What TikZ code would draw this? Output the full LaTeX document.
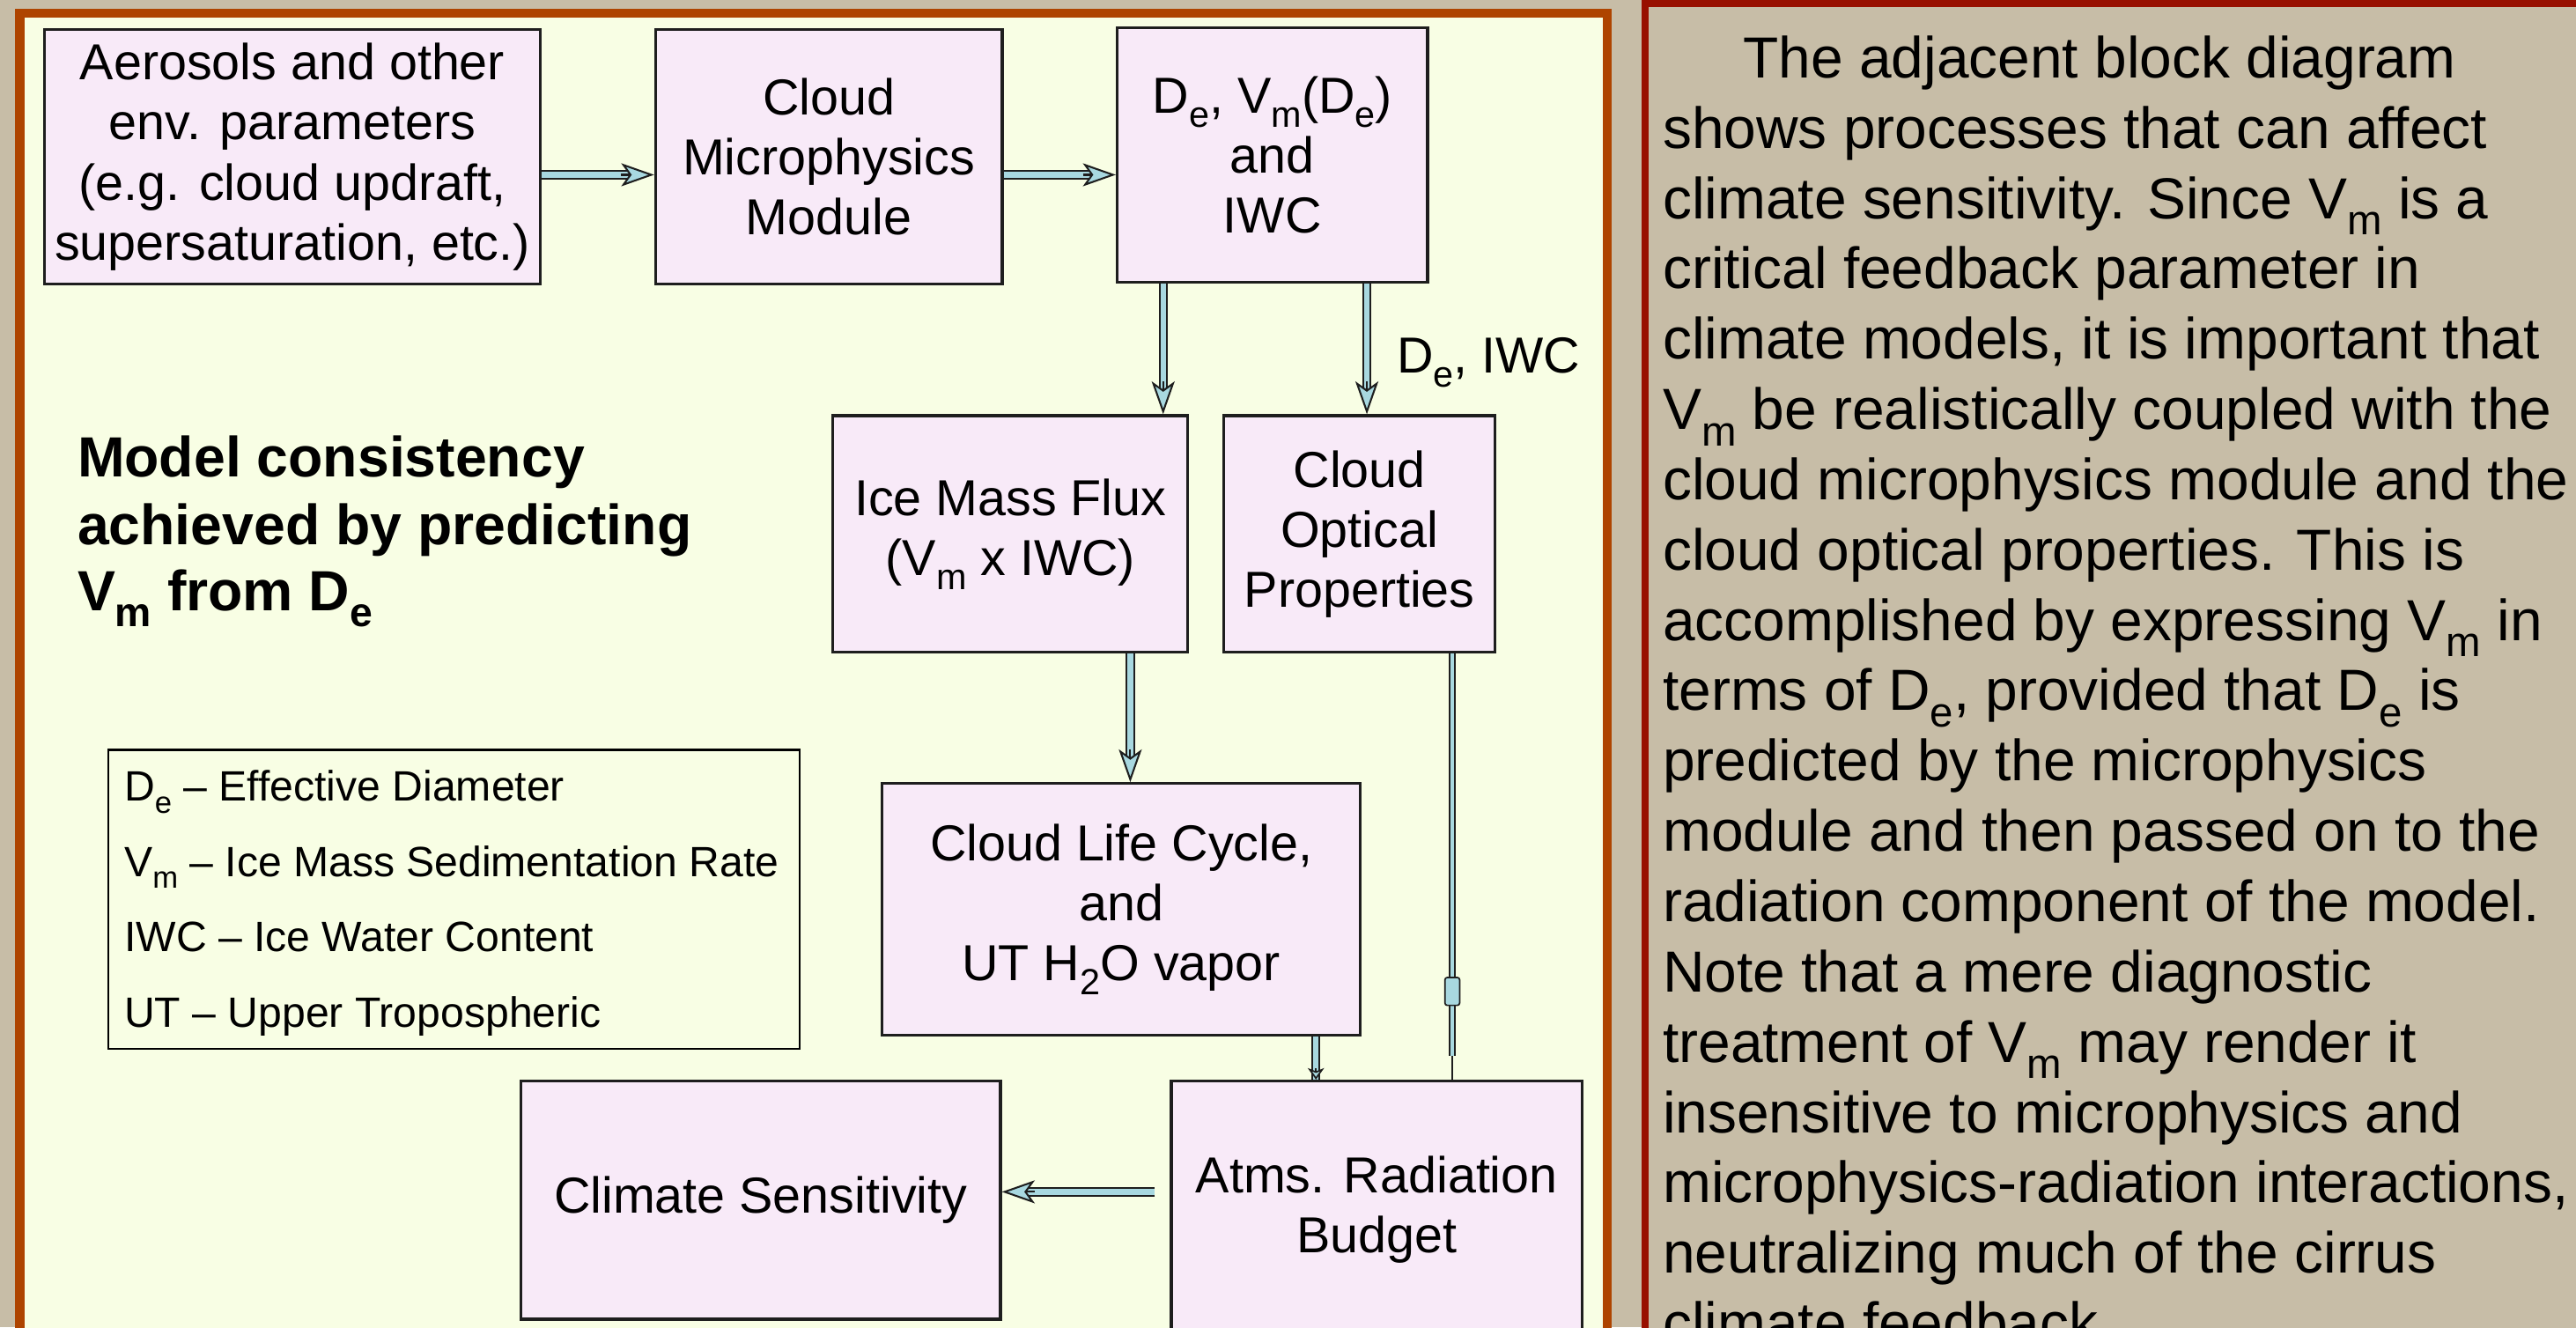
\documentclass[tikz,border=0pt]{standalone}
\usepackage{fontspec}
\setmainfont{Liberation Sans}
\usepackage{graphicx}
\usetikzlibrary{arrows.meta,calc}
\definecolor{tanbg}{RGB}{199,189,167}
\definecolor{panelyel}{RGB}{248,254,228}
\definecolor{boxfill}{RGB}{248,234,248}
\definecolor{arrowblue}{RGB}{168,216,224}
\definecolor{orangeb}{RGB}{174,68,0}
\definecolor{redb}{RGB}{152,16,0}
\definecolor{edge}{RGB}{30,30,30}
\newcommand\lsub[1]{\raisebox{-0.28em}{\scalebox{0.72}{#1}}}
\newcommand\boxfont{\fontsize{30.8}{36.5}\selectfont}
\newcommand\parafont{\fontsize{35.3}{42.8}\selectfont}
\newcommand\boldtxt{\fontsize{34.5}{40.6}\selectfont\bfseries}
\newcommand\legfont{\fontsize{25.8}{30}\selectfont}
\newcommand\dbarrow[2]{%
  \draw[shaft, shorten >=15pt] (#1) -- (#2);
  \draw[headtip] ($(#2)!20pt!(#1)$) -- (#2);}
\begin{document}
\begin{tikzpicture}[x=1pt,y=-1pt,
  box/.style={draw=edge, line width=1.7pt, fill=boxfill, inner sep=0pt, align=center, font=\boxfont},
  shaft/.style={draw=edge, line width=1.1pt, double=arrowblue, double distance=3.4pt},
  thinshaft/.style={draw=edge, line width=0.9pt, double=arrowblue, double distance=2.2pt},
  headtip/.style={draw=edge, line width=1.1pt, -{Stealth[length=20pt,width=14pt,inset=5pt,fill=arrowblue]}},
  smalltip/.style={draw=edge, line width=0.9pt, -{Stealth[length=7pt,width=10pt,inset=2pt,fill=arrowblue]}},
  para/.style={anchor=base west, inner sep=0pt, font=\parafont},
  boldline/.style={anchor=base west, inner sep=0pt, font=\boldtxt},
  legline/.style={anchor=base west, inner sep=0pt, font=\legfont}]
\useasboundingbox (0,0) rectangle (1568,808);
\clip (0,0) rectangle (1568,808);
\fill[tanbg] (0,0) rectangle (1568,808);
% panels
\draw[draw=orangeb, line width=5.5pt, fill=panelyel] (12,8) rectangle (978.5,870);
\draw[draw=redb, line width=4.5pt, fill=tanbg] (1001.5,1.8) rectangle (1700,900);

% boxes
\node[box, minimum width=302pt, minimum height=155pt] (aer) at (178,95.5)
  {Aerosols and other\\env. parameters\\(e.g. cloud updraft,\\supersaturation, etc.)};
\node[box, minimum width=211pt, minimum height=155pt] (micro) at (504.5,95.5)
  {Cloud\\Microphysics\\Module};
\node[box, minimum width=189pt, minimum height=155pt] (dvm) at (774.5,94.5)
  {D\lsub{e}, V\lsub{m}(D\lsub{e})\\and\\IWC};
\node[box, minimum width=216pt, minimum height=144pt] (imf) at (615,325)
  {Ice Mass Flux\\(V\lsub{m} x IWC)};
\node[box, minimum width=165pt, minimum height=144pt] (cop) at (827.5,325)
  {Cloud\\Optical\\Properties};
\node[box, minimum width=291pt, minimum height=153pt] (clc) at (682.5,553.5)
  {Cloud Life Cycle,\\and\\UT H\lsub{2}O vapor};
\node[box, minimum width=250pt, minimum height=157pt] (arb) at (838,736.5)
  {Atms. Radiation\\Budget};
\node[box, minimum width=292pt, minimum height=145pt] (cls) at (463,730.5)
  {Climate Sensitivity};

\node[anchor=base west, inner sep=0pt, font=\boxfont] (lbl) at (850,227) {D\lsub{e}, IWC};

% helper rows/columns
\coordinate (r106) at (0,106.4);
\coordinate (r725) at (0,725.5);
\coordinate (c708) at (708,0);
\coordinate (c832) at (832,0);
\coordinate (c688) at (688,0);
\coordinate (c801) at (801,0);
\coordinate (c884) at (884,0);

\path (aer.east |- r106) coordinate (a1s) (micro.west |- r106) coordinate (a1e);
\path (micro.east |- r106) coordinate (a2s) (dvm.west |- r106) coordinate (a2e);
\path (dvm.south -| c708) coordinate (a3s) (imf.north -| c708) coordinate (a3e);
\path (dvm.south -| c832) coordinate (a4s) (cop.north -| c832) coordinate (a4e);
\path (imf.south -| c688) coordinate (a5s) (clc.north -| c688) coordinate (a5e);
\path (clc.south -| c801) coordinate (a6s) (arb.north -| c801) coordinate (a6e);
\path (cop.south -| c884) coordinate (a7s) (arb.north -| c884) coordinate (a7e);
\coordinate (a7m) at (884,643);
\coordinate (a8s) at (703,725.5);
\path (cls.east |- r725) coordinate (a8e);

\dbarrow{a1s}{a1e}
\dbarrow{a2s}{a2e}
\dbarrow{a3s}{a3e}
\dbarrow{a4s}{a4e}
\dbarrow{a5s}{a5e}
\dbarrow{a8s}{a8e}
\draw[shaft] (a6s) -- (a6e);
\draw[smalltip] ($(a6e)!7pt!(a6s)$) -- (a6e);
\draw[thinshaft] (a7s) -- (a7m);
\draw[edge, line width=1pt] (a7m) -- (a7e);
\node[draw=edge, fill=arrowblue, line width=0.9pt, minimum width=9pt, minimum height=17pt,
      inner sep=0pt, rounded corners=1.5pt] (blob) at (884,603.5) {};

% bold note
\node[boldline] (m1) at (47,290.4) {Model consistency};
\node[boldline] (m2) at (47,331.3) {achieved by predicting};
\node[boldline] (m3) at (47,371.7) {V\lsub{m} from D\lsub{e}};

% legend
\node[draw=black, line width=1.2pt, minimum width=421pt, minimum height=182pt, inner sep=0pt]
  (legend) at (276.4,547.5) {};
\node[legline] (l1) at (75.5,487.8) {D\lsub{e} – Effective Diameter};
\node[legline] (l2) at (75.5,533.6) {V\lsub{m} – Ice Mass Sedimentation Rate};
\node[legline] (l3) at (75.5,579.4) {IWC – Ice Water Content};
\node[legline] (l4) at (75.5,625.5) {UT – Upper Tropospheric};

% right panel paragraph
\node[para] (p0) at (1061,47.4) {The adjacent block diagram};
\foreach \ptext [count=\i from 1] in {
  {shows processes that can affect},
  {climate sensitivity. Since V\lsub{m} is a},
  {critical feedback parameter in},
  {climate models, it is important that},
  {V\lsub{m} be realistically coupled with the},
  {cloud microphysics module and the},
  {cloud optical properties. This is},
  {accomplished by expressing V\lsub{m} in},
  {terms of D\lsub{e}, provided that D\lsub{e} is},
  {predicted by the microphysics},
  {module and then passed on to the},
  {radiation component of the model.},
  {Note that a mere diagnostic},
  {treatment of V\lsub{m} may render it},
  {insensitive to microphysics and},
  {microphysics-radiation interactions,},
  {neutralizing much of the cirrus},
  {climate feedback.}}
  {\node[para] (p\i) at (1012,{47.4+42.8*\i}) {\ptext};}
\end{tikzpicture}
\end{document}
